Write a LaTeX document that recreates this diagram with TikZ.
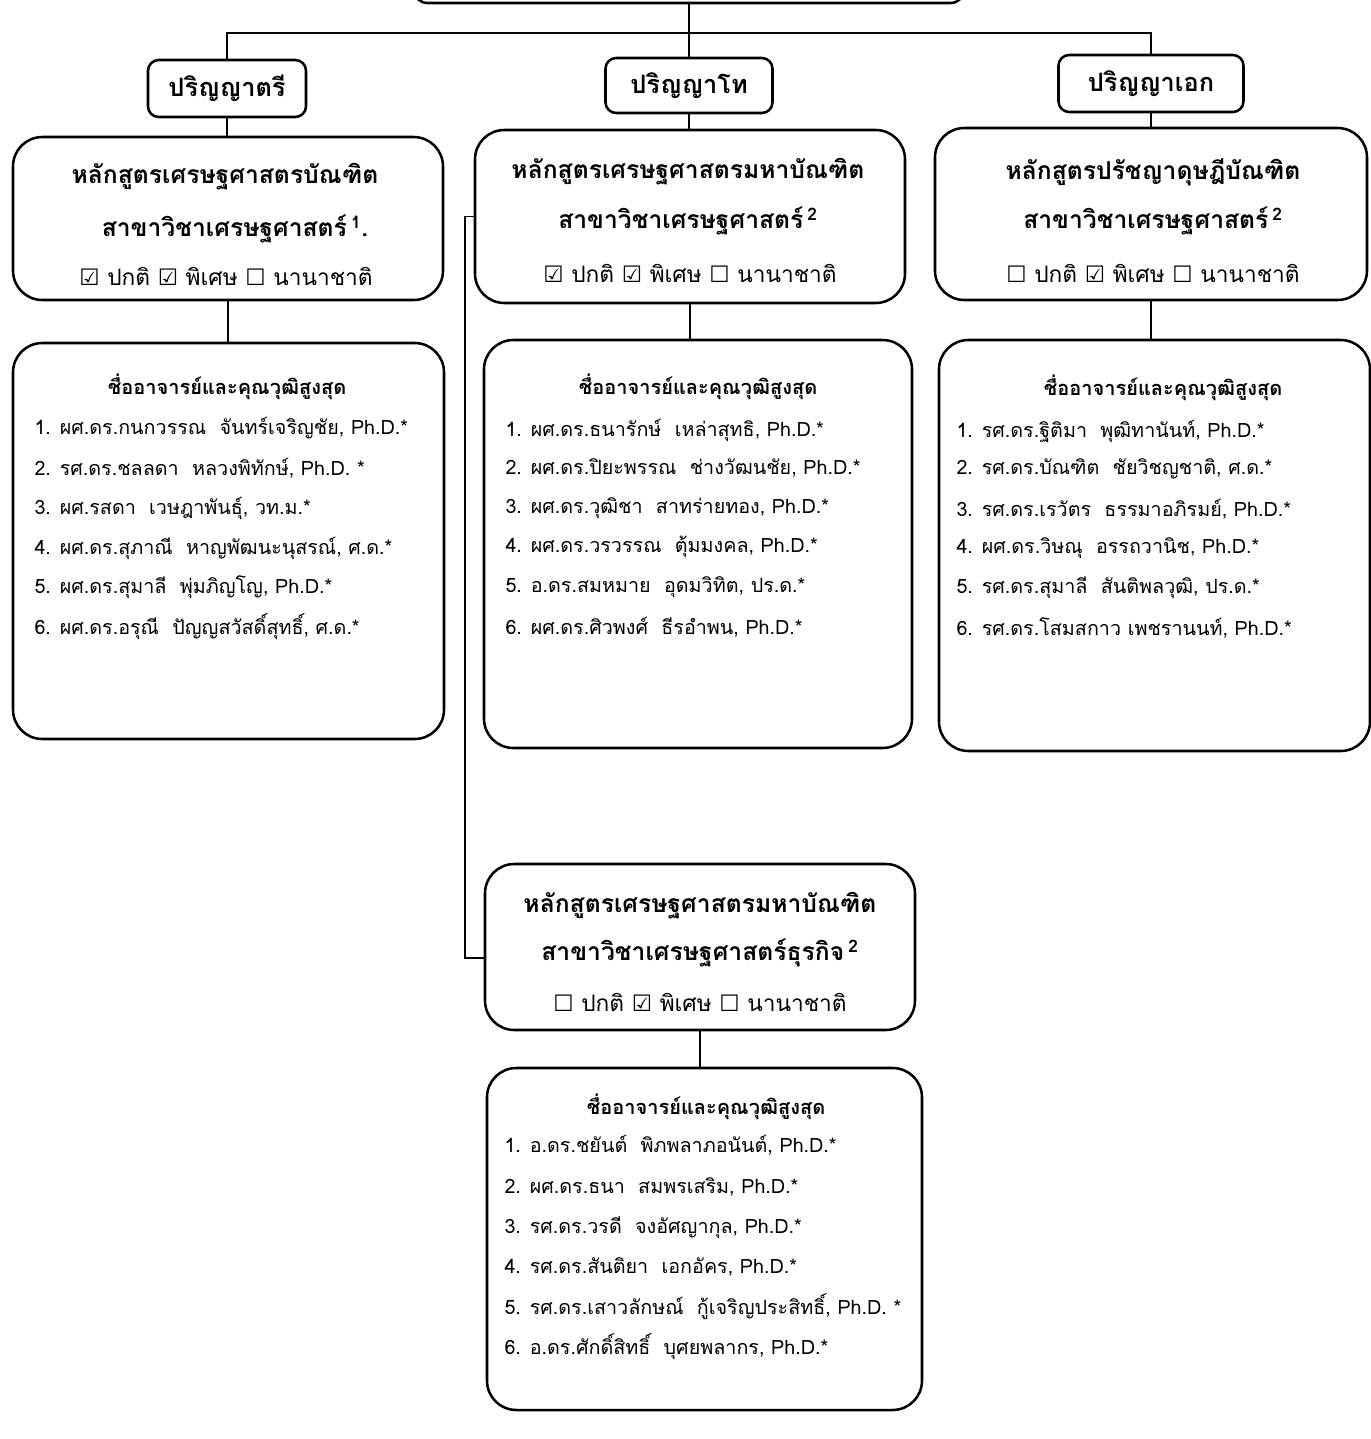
\documentclass[tikz,border=0pt]{standalone}
\usepackage{fontspec}
\setmainfont[Script=Thai]{Loma}
\newfontfamily\symfont{DejaVu Sans}
\newcommand{\cbyes}{{\symfont\char"2611}}
\newcommand{\cbno}{{\symfont\char"2610}}

\tikzset{every picture/.style={line width=0.75pt}}
\tikzset{
  degbox/.style={draw, rounded corners=8pt, line width=1.9pt, inner sep=0pt, font=\bfseries\fontsize{19}{22}\selectfont},
  progbox/.style={draw, rounded corners=22pt, line width=1.9pt, inner sep=0pt},
  link/.style={line width=1.4pt},
  progtxt/.style={inner sep=0.75pt, font=\bfseries\fontsize{18.5}{22}\selectfont},
  ticktxt/.style={inner sep=0.75pt, font=\fontsize{17}{20}\selectfont},
  headtxt/.style={inner sep=0.75pt, font=\bfseries\fontsize{15}{18}\selectfont},
  itemtxt/.style={inner sep=0.75pt, anchor=west, font=\fontsize{14.8}{18}\selectfont},
}

\begin{document}
\begin{tikzpicture}[x=0.75pt,y=0.75pt,yscale=-1,xscale=1]
\useasboundingbox (0,0) rectangle (1371,1439);
\clip (0,0) rectangle (1371,1439);

%Rounded Rect: root (cut off at top)
\node [progbox, rounded corners=10pt, minimum width=412.5pt, minimum height=48pt] (root) at (689,-29) {};

%Rounded Rect: degree levels
\node [degbox, minimum width=118.5pt, minimum height=42.75pt] (tri) at (227,88.5) {ปริญญาตรี};
\node [degbox, minimum width=125.25pt, minimum height=41.25pt] (tho) at (689,85.5) {ปริญญาโท};
\node [degbox, minimum width=138.75pt, minimum height=42.75pt] (ek) at (1151,83.5) {ปริญญาเอก};

%Rounded Rect: programmes
\node [progbox, minimum width=322.5pt, minimum height=122.25pt] (progA) at (228,218.5) {};
\node [progbox, minimum width=322.5pt, minimum height=129.75pt] (progB) at (690,216.5) {};
\node [progbox, minimum width=324pt, minimum height=129pt] (progC) at (1151,214) {};
\node [progbox, minimum width=322.5pt, minimum height=124.5pt] (progD) at (700,947) {};

%Rounded Rect: staff lists
\node [progbox, minimum width=323.25pt, minimum height=297pt] (listA) at (228.5,541) {};
\node [progbox, minimum width=321pt, minimum height=306pt] (listB) at (698,544) {};
\node [progbox, minimum width=323.25pt, minimum height=308.25pt] (listC) at (1154.5,545.5) {};
\node [progbox, minimum width=326.25pt, minimum height=256.5pt] (listD) at (704.5,1239) {};

%Connectors
\coordinate (bus) at (689,33);
\coordinate (elbow) at (465,216.5);
\draw [link] (root.south) -- (tho.north);
\draw [link] (tri.north) |- (bus) -| (ek.north);
\draw [link] (tri.south) -- (tri.south |- progA.north);
\draw [link] (tho.south) -- (tho.south |- progB.north);
\draw [link] (ek.south) -- (ek.south |- progC.north);
\draw [link] (progA.south) -- (progA.south |- listA.north);
\draw [link] (progB.south) -- (progB.south |- listB.north);
\draw [link] (progC.south) -- (progC.south |- listC.north);
\draw [link] (progD.south) -- (progD.south |- listD.north);
\draw [link] (progB.west) -- (elbow) |- ([yshift=8pt]progD.west);

% Text Node
\node [progtxt] (progA1) at (225,177) {หลักสูตรเศรษฐศาสตรบัณฑิต};
\node [progtxt] (progA2) at (235,229) {สาขาวิชาเศรษฐศาสตร์\,\textsuperscript{1}.};
\node [ticktxt] (progA3) at (226,276) {\cbyes{} ปกติ \cbyes{} พิเศษ \cbno{} นานาชาติ};
% Text Node
\node [progtxt] (progB1) at (688,172) {หลักสูตรเศรษฐศาสตรมหาบัณฑิต};
\node [progtxt] (progB2) at (688,221) {สาขาวิชาเศรษฐศาสตร์\,\textsuperscript{2}};
\node [ticktxt] (progB3) at (690,273) {\cbyes{} ปกติ \cbyes{} พิเศษ \cbno{} นานาชาติ};
% Text Node
\node [progtxt] (progC1) at (1153,172) {หลักสูตรปรัชญาดุษฎีบัณฑิต};
\node [progtxt] (progC2) at (1153,221) {สาขาวิชาเศรษฐศาสตร์\,\textsuperscript{2}};
\node [ticktxt] (progC3) at (1153,273) {\cbno{} ปกติ \cbyes{} พิเศษ \cbno{} นานาชาติ};
% Text Node
\node [progtxt] (progD1) at (700,906) {หลักสูตรเศรษฐศาสตรมหาบัณฑิต};
\node [progtxt] (progD2) at (700,953) {สาขาวิชาเศรษฐศาสตร์ธุรกิจ\,\textsuperscript{2}};
\node [ticktxt] (progD3) at (700,1002) {\cbno{} ปกติ \cbyes{} พิเศษ \cbno{} นานาชาติ};

% Text Node: list A
\node [headtxt] (headA) at (227,387) {ชื่ออาจารย์และคุณวุฒิสูงสุด};
\node [itemtxt] (itemA1) at (33,428) {1. ผศ.ดร.กนกวรรณ\ \ จันทร์เจริญชัย, Ph.D.*};
\node [itemtxt] (itemA2) at (33,468) {2. รศ.ดร.ชลลดา\ \ หลวงพิทักษ์, Ph.D. *};
\node [itemtxt] (itemA3) at (33,508) {3. ผศ.รสดา\ \ เวษฎาพันธุ์, วท.ม.*};
\node [itemtxt] (itemA4) at (33,548) {4. ผศ.ดร.สุภาณี\ \ หาญพัฒนะนุสรณ์, ศ.ด.*};
\node [itemtxt] (itemA5) at (33,587) {5. ผศ.ดร.สุมาลี\ \ พุ่มภิญโญ, Ph.D.*};
\node [itemtxt] (itemA6) at (33,627) {6. ผศ.ดร.อรุณี\ \ ปัญญสวัสดิ์สุทธิ์, ศ.ด.*};

% Text Node: list B
\node [headtxt] (headB) at (698,387) {ชื่ออาจารย์และคุณวุฒิสูงสุด};
\node [itemtxt] (itemB1) at (504,430) {1. ผศ.ดร.ธนารักษ์\ \ เหล่าสุทธิ, Ph.D.*};
\node [itemtxt] (itemB2) at (504,468) {2. ผศ.ดร.ปิยะพรรณ\ \ ช่างวัฒนชัย, Ph.D.*};
\node [itemtxt] (itemB3) at (504,508) {3. ผศ.ดร.วุฒิชา\ \ สาทร่ายทอง, Ph.D.*};
\node [itemtxt] (itemB4) at (504,547) {4. ผศ.ดร.วรวรรณ\ \ ตุ้มมงคล, Ph.D.*};
\node [itemtxt] (itemB5) at (504,587) {5. อ.ดร.สมหมาย\ \ อุดมวิทิต, ปร.ด.*};
\node [itemtxt] (itemB6) at (504,627) {6. ผศ.ดร.ศิวพงศ์\ \ ธีรอำพน, Ph.D.*};

% Text Node: list C
\node [headtxt] (headC) at (1163,388) {ชื่ออาจารย์และคุณวุฒิสูงสุด};
\node [itemtxt] (itemC1) at (955,431) {1. รศ.ดร.ฐิติมา\ \ พุฒิทานันท์, Ph.D.*};
\node [itemtxt] (itemC2) at (955,469) {2. รศ.ดร.บัณฑิต\ \ ชัยวิชญชาติ, ศ.ด.*};
\node [itemtxt] (itemC3) at (955,509) {3. รศ.ดร.เรวัตร\ \ ธรรมาอภิรมย์, Ph.D.*};
\node [itemtxt] (itemC4) at (955,548) {4. ผศ.ดร.วิษณุ\ \ อรรถวานิช, Ph.D.*};
\node [itemtxt] (itemC5) at (955,588) {5. รศ.ดร.สุมาลี\ \ สันติพลวุฒิ, ปร.ด.*};
\node [itemtxt] (itemC6) at (955,628) {6. รศ.ดร.โสมสกาว เพชรานนท์, Ph.D.*};

% Text Node: list D
\node [headtxt] (headD) at (706,1107) {ชื่ออาจารย์และคุณวุฒิสูงสุด};
\node [itemtxt] (itemD1) at (503,1145) {1. อ.ดร.ชยันต์\ \ พิภพลาภอนันต์, Ph.D.*};
\node [itemtxt] (itemD2) at (503,1187) {2. ผศ.ดร.ธนา\ \ สมพรเสริม, Ph.D.*};
\node [itemtxt] (itemD3) at (503,1228) {3. รศ.ดร.วรดี\ \ จงอัศญากุล, Ph.D.*};
\node [itemtxt] (itemD4) at (503,1267) {4. รศ.ดร.สันติยา\ \ เอกอัคร, Ph.D.*};
\node [itemtxt] (itemD5) at (503,1307) {5. รศ.ดร.เสาวลักษณ์\ \ กู้เจริญประสิทธิ์, Ph.D. *};
\node [itemtxt] (itemD6) at (503,1347) {6. อ.ดร.ศักดิ์สิทธิ์\ \ บุศยพลากร, Ph.D.*};

\end{tikzpicture}
\end{document}
